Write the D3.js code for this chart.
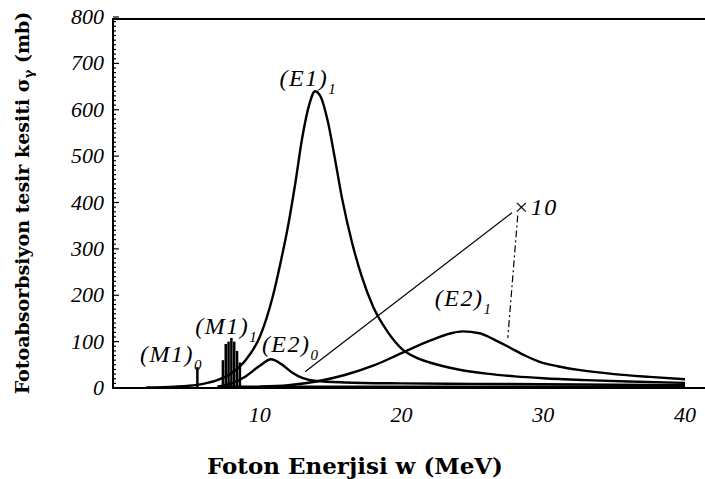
<!DOCTYPE html>
<html>
<head>
<meta charset="utf-8">
<script src="https://cdn.jsdelivr.net/npm/d3@7"></script>
<style>
  body { margin: 0; background: #fff; }
  svg { display: block; }
  .tick-label { font-family: "Liberation Serif", serif; font-style: italic; font-size: 22px; }
  .title { font-family: "DejaVu Serif", serif; font-weight: bold; }
  .lbl { font-family: "Liberation Serif", serif; font-style: italic; font-size: 24px; letter-spacing: 1.5px; }
</style>
</head>
<body>
<div id="chart"></div>
<script>
// curve data: [energy MeV, sigma mb]
var e1Curve = [[2,1],[4,3],[5,5],[6,9],[7,17],[8,32],[9,60],[10,110],[10.9,195],[11.5,275],[12,350],[12.5,440],[13,540],[13.5,612],[13.9,640],[14.3,628],[14.8,575],[15.3,495],[15.8,410],[16.5,315],[17.2,240],[18,175],[19,122],[20,85],[21,66],[22,55],[24,40],[26,31],[28,25],[30,21],[33,17],[36,14],[40,11]];
var e2_0Curve = [[7,3],[8,10],[9,25],[10,48],[10.8,62],[11.5,52],[12.3,33],[13,22],[14,15],[16,12],[20,10],[25,9],[30,8],[35,7],[40,6]];
var e2_1Curve = [[10,3],[12,6],[14,14],[16,28],[18,48],[20,75],[22,102],[23.5,118],[24.3,122],[25.5,118],[26.5,105],[27.6,88],[28.7,70],[29.7,57],[31,47],[32.5,39],[35,30],[37.5,24],[40,19]];
var baseCurve = [[7.5,2],[40,2]];

// M1 spikes
var m1_0Energy = [5.6];
var m1_0Height = [45];
var m1_1Energy = [7.4, 7.6, 7.8, 8.0, 8.2, 8.4, 8.6];
var m1_1Height = [60, 95, 100, 108, 100, 80, 55];

// x10 annotation lines
var diagLine = [[13.2, 35], [27.8, 378]];
var dashLine = [[28.2, 372], [27.5, 108]];

var xTicks = [10, 20, 30, 40];
var yTicks = [0, 100, 200, 300, 400, 500, 600, 700, 800];

// labels: main text, subscript, anchor [MeV, mb]
var labels = [
  {t: "(E1)", s: "1", at: [11.4, 651]},
  {t: "(M1)", s: "1", at: [5.45, 116]},
  {t: "(M1)", s: "0", at: [1.55, 56]},
  {t: "(E2)", s: "0", at: [10.15, 78]},
  {t: "(E2)", s: "1", at: [22.35, 177]}
];

var width = 705, height = 479;
var svg = d3.select("#chart").append("svg").attr("width", width).attr("height", height);

var x = d3.scaleLinear().domain([0, 40]).range([118, 685]);
var y = d3.scaleLinear().domain([0, 800]).range([388, 17]);
var frameLeft = 113, frameTop = 19, frameBottom = 388;

// frame
svg.append("path")
  .attr("d", "M" + width + "," + frameTop + "H" + frameLeft + "V" + frameBottom + "H" + width)
  .attr("fill", "none").attr("stroke", "#000").attr("stroke-width", 2);

// y ticks, inside
svg.append("g").selectAll("line").data(d3.range(0, 801, 10)).enter().append("line")
  .attr("x1", frameLeft).attr("x2", function(d) { return frameLeft + (d % 100 == 0 ? 6 : 3); })
  .attr("y1", function(d) { return y(d); }).attr("y2", function(d) { return y(d); })
  .attr("stroke", "#000").attr("stroke-width", 1.2);

svg.append("g").selectAll("text").data(yTicks).enter().append("text")
  .attr("class", "tick-label")
  .attr("x", 104).attr("y", function(d) { return y(d) + 7; })
  .attr("text-anchor", "end").text(function(d) { return d; });

svg.append("g").selectAll("text").data(xTicks).enter().append("text")
  .attr("class", "tick-label")
  .attr("x", function(d) { return x(d); }).attr("y", 422)
  .attr("text-anchor", "middle").text(function(d) { return d; });

// axis titles
svg.append("text").attr("class", "title")
  .attr("x", 355).attr("y", 474).attr("text-anchor", "middle")
  .attr("font-size", 22).attr("textLength", 296).attr("lengthAdjust", "spacingAndGlyphs")
  .text("Foton Enerjisi w (MeV)");

var yt = svg.append("text").attr("class", "title")
  .attr("transform", "translate(29,203) rotate(-90)")
  .attr("text-anchor", "middle").attr("font-size", 19);
yt.append("tspan").text("Fotoabsorbsiyon tesir kesiti σ");
yt.append("tspan").attr("dy", 4).attr("font-size", 13).text("γ");
yt.append("tspan").attr("dy", -4).text("  (mb)");

// curves
var line = d3.line()
  .x(function(d) { return x(d[0]); })
  .y(function(d) { return y(d[1]); })
  .curve(d3.curveMonotoneX);

[e1Curve, e2_0Curve, e2_1Curve].forEach(function(c) {
  svg.append("path").attr("d", line(c)).attr("fill", "none")
    .attr("stroke", "#000").attr("stroke-width", 2.4);
});
svg.append("path").attr("d", line(baseCurve)).attr("fill", "none")
  .attr("stroke", "#000").attr("stroke-width", 3);

// spikes
var spikes = m1_0Energy.map(function(e, i) { return [e, m1_0Height[i]]; })
  .concat(m1_1Energy.map(function(e, i) { return [e, m1_1Height[i]]; }));
svg.append("g").selectAll("line").data(spikes).enter().append("line")
  .attr("x1", function(d) { return x(d[0]); }).attr("x2", function(d) { return x(d[0]); })
  .attr("y1", y(0)).attr("y2", function(d) { return y(d[1]); })
  .attr("stroke", "#000").attr("stroke-width", 2.5);

// annotation lines
var straight = d3.line().x(function(d) { return x(d[0]); }).y(function(d) { return y(d[1]); });
svg.append("path").attr("d", straight(diagLine)).attr("fill", "none")
  .attr("stroke", "#000").attr("stroke-width", 1.2);
svg.append("path").attr("d", straight(dashLine)).attr("fill", "none")
  .attr("stroke", "#000").attr("stroke-width", 1.2).attr("stroke-dasharray", "7,3,2,3");

// labels
labels.forEach(function(l) {
  var t = svg.append("text").attr("class", "lbl")
    .attr("x", x(l.at[0])).attr("y", y(l.at[1]));
  t.append("tspan").text(l.t);
  t.append("tspan").attr("dy", 8).attr("font-size", 15).text(l.s);
});
svg.append("text").attr("class", "lbl")
  .attr("x", x(27.87)).attr("y", y(373)).text("×10");
</script>
</body>
</html>
